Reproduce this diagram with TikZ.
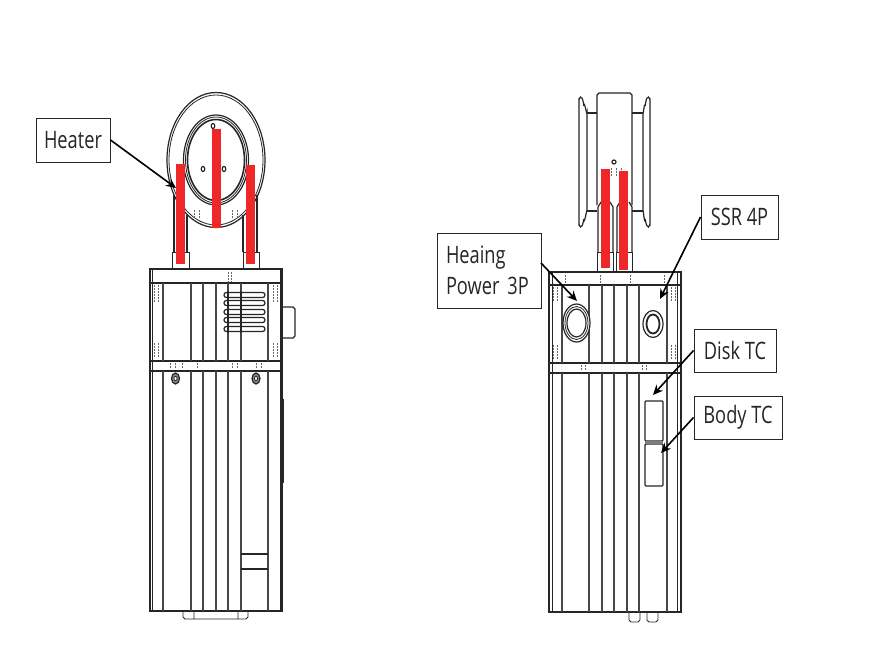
\documentclass[tikz,border=0pt]{standalone}
\usepackage{fontspec}
\setmainfont{Open Sans}[FakeStretch=0.76]
\usetikzlibrary{arrows.meta}
\definecolor{ink}{gray}{0.15}
\definecolor{heat}{RGB}{238,40,40}
\tikzset{
  part/.style={draw=ink,line width=1.2pt},
  thin part/.style={draw=ink,line width=0.8pt},
  rib/.style={draw=ink!85,line width=1.8pt},
  hid/.style={draw=ink!70,line width=0.6pt,dash pattern=on 1.5pt off 1.5pt},
  heater/.style={fill=heat,draw=none},
  callout/.style={draw=ink,line width=1pt,fill=white,inner sep=0pt,font=\fontsize{24}{31}\selectfont,text=ink},
  pointer/.style={draw=black,line width=1.6pt,-{Stealth[length=10pt,width=9pt]}}
}
\begin{document}
\begin{tikzpicture}[x=1pt,y=-1pt]
\useasboundingbox (0,0) rectangle (896,653);
% ---------- left view: disk
\draw[part,fill=white] (216,160) ellipse (49 and 67.5);
\draw[thin part] (216,160) ellipse (47 and 65);
\draw[part] (216,160) ellipse (32.5 and 45);
\draw[thin part] (216,160) ellipse (30.5 and 43);
\draw[draw=ink,line width=1.6pt] (216,160) ellipse (28.5 and 40.5);
\foreach \p in {(213,126),(203,169),(224,169)} \draw[part] \p ellipse (1.8 and 2.5);
\draw[hid] (194,210)--(194,218) (199,210)--(199,218) (232,210)--(232,218) (237,210)--(237,218);
% legs
\draw[part] (174,195)--(174,252) (187,215)--(187,252);
\draw[part] (243,215)--(243,252) (257,195)--(257,252);
\draw[thin part] (172,269)--(172,252)--(189,252)--(189,269);
\draw[thin part] (243,269)--(243,252)--(259,252)--(259,269);
% body
\draw[part] (150,269) rectangle (282,611);
\draw[part] (150,283)--(282,283) (150,361)--(282,361) (150,371)--(282,371);
\draw[thin part] (152,269)--(152,611) (280,269)--(280,611);
\foreach \x in {163,191,203,216,228,241,268} {\draw[rib] (\x,283)--(\x,361) (\x,371)--(\x,611);}
\draw[part] (241,554)--(268,554) (241,569)--(268,569);
\draw[part] (282,307)--(293,307)--(295,309)--(295,336)--(293,338)--(282,338);
\draw[draw=ink,line width=1.8pt] (283,399)--(283,483);
\draw[thin part] (183,611)--(183,617)--(185,619)--(246,619)--(248,617)--(248,611) (194,611)--(194,619) (238,611)--(238,619);
% vents
\foreach \y in {295,303,312,320,329}
  \draw[part,fill=white,rounded corners=2.4pt] (224,\y-2.5) rectangle (265,\y+2.5);
\draw[part] (228,291)--(228,333) (241,291)--(241,333);
% screws
\foreach \x in {175.5,256} {\draw[part,fill=ink!55] (\x,378.5) ellipse (4 and 5.5); \draw[thin part,fill=white] (\x,378.5) ellipse (1.6 and 2.2);}
% hidden marks, left view
\foreach \x in {154,158,273,277} {\draw[hid] (\x,285)--(\x,302) (\x,343)--(\x,358);}
\draw[hid] (228,272)--(228,282) (231,272)--(231,282);
\foreach \x in {170,175,182,197,232,237,256,261} \draw[hid] (\x,363)--(\x,369);
% red heaters, left view
\fill[heater] (176,164) rectangle (185,264);
\fill[heater] (212,129) rectangle (221,228);
\fill[heater] (246,165) rectangle (255,264);

% ---------- right view: disk side
\draw[part] (597,205)--(597,95) to[out=-90,in=180] (599,93)--(630,93) to[out=0,in=-90] (632,95)--(632,205);
\draw[part,fill=white] (579,100) to[out=-90,in=180] (580.5,97) to[out=0,in=-100] (584,105) to[out=80,in=-90] (587,113)--(587,211) to[out=90,in=-80] (584,220) to[out=100,in=0] (580.5,227) to[out=180,in=90] (579,224)--cycle;
\draw[part,fill=white] (650,100) to[out=-90,in=0] (648.5,97) to[out=180,in=-80] (645,105) to[out=100,in=-90] (643,113)--(643,211) to[out=90,in=-100] (645,220) to[out=80,in=180] (648.5,227) to[out=0,in=90] (650,224)--cycle;
\draw[part] (587,113)--(597,113) (587,211)--(597,211) (632,113)--(643,113) (632,211)--(643,211);
\draw[part] (614,162) circle (2);
\draw[hid] (611,168)--(611,176) (616,168)--(616,176) (621,168)--(621,176);
\draw[part] (598,252)--(598,207)--(601,202) (610,202)--(613,207)--(613,252);
\draw[part] (617,252)--(617,207)--(620,202) (629,202)--(632,207)--(632,252);
\draw[thin part] (597,272)--(597,252)--(613,252)--(613,272);
\draw[thin part] (616,272)--(616,252)--(632,252)--(632,272);
% body
\draw[part] (549,272) rectangle (681,612);
\draw[part] (549,285)--(681,285) (549,363)--(681,363) (549,373)--(681,373);
\draw[thin part] (552,272)--(552,612) (677,272)--(677,612);
\foreach \x in {562,589,602,614,627,639,667} {\draw[rib] (\x,285)--(\x,363) (\x,373)--(\x,612);}
\draw[thin part] (629,612)--(629,620)--(631,622)--(638,622)--(640,620)--(640,612);
\draw[thin part] (647,612)--(647,620)--(649,622)--(656,622)--(658,620)--(658,612);
% connectors
\draw[part,fill=white] (576.5,323) ellipse (13.5 and 19);
\draw[thin part] (576.5,323) ellipse (11.5 and 16.5);
\draw[part] (576.5,323) ellipse (9.5 and 14);
\draw[part,fill=white] (653,324) ellipse (10 and 13.5);
\draw[draw=ink,line width=1.8pt] (653,324) ellipse (6.5 and 9.5);
% TC ports
\draw[part,rounded corners=1pt] (645,401) rectangle (663,441);
\draw[part,rounded corners=1pt] (645,444) rectangle (663,486);
\fill[ink!60] (645,441) rectangle (663,444);
% hidden marks, right view
\foreach \x in {553,557,671,675} {\draw[hid] (\x,287)--(\x,302) (\x,345)--(\x,360);}
\foreach \x in {565,600,630,664} \draw[hid] (\x,275)--(\x,283);
\foreach \x in {581,585,642,646} \draw[hid] (\x,365)--(\x,371);
% red heaters, right view
\fill[heater] (601,169) rectangle (610,268);
\fill[heater] (619,171) rectangle (628,270);

% ---------- callouts
\node[callout,minimum width=74pt,minimum height=44pt] (heaterbox) at (73,140) {Heater};
\node[callout,minimum width=104pt,minimum height=75pt,align=left,text width=86pt] (powerbox) at (489,270.5) {Heaing\\Power~3P};
\node[callout,minimum width=77pt,minimum height=44pt] (ssrbox) at (739.5,217) {SSR 4P};
\node[callout,minimum width=82pt,minimum height=43pt] (diskbox) at (735,350.5) {Disk TC};
\node[callout,minimum width=88pt,minimum height=43pt] (bodybox) at (738,417.5) {Body TC};
\coordinate (heaterend) at (176,188);
\coordinate (powerstart) at (541,263);
\coordinate (powerend) at (577,301);
\coordinate (ssrend) at (660,299);
\coordinate (diskend) at (653,395);
\coordinate (bodyend) at (661,453);
\draw[pointer] (heaterbox.east) -- (heaterend);
\draw[pointer] (powerstart) -- (powerend);
\draw[pointer] (ssrbox.west) -- (ssrend);
\draw[pointer] (diskbox.west) -- (diskend);
\draw[pointer] (bodybox.west) -- (bodyend);
\end{tikzpicture}
\end{document}
